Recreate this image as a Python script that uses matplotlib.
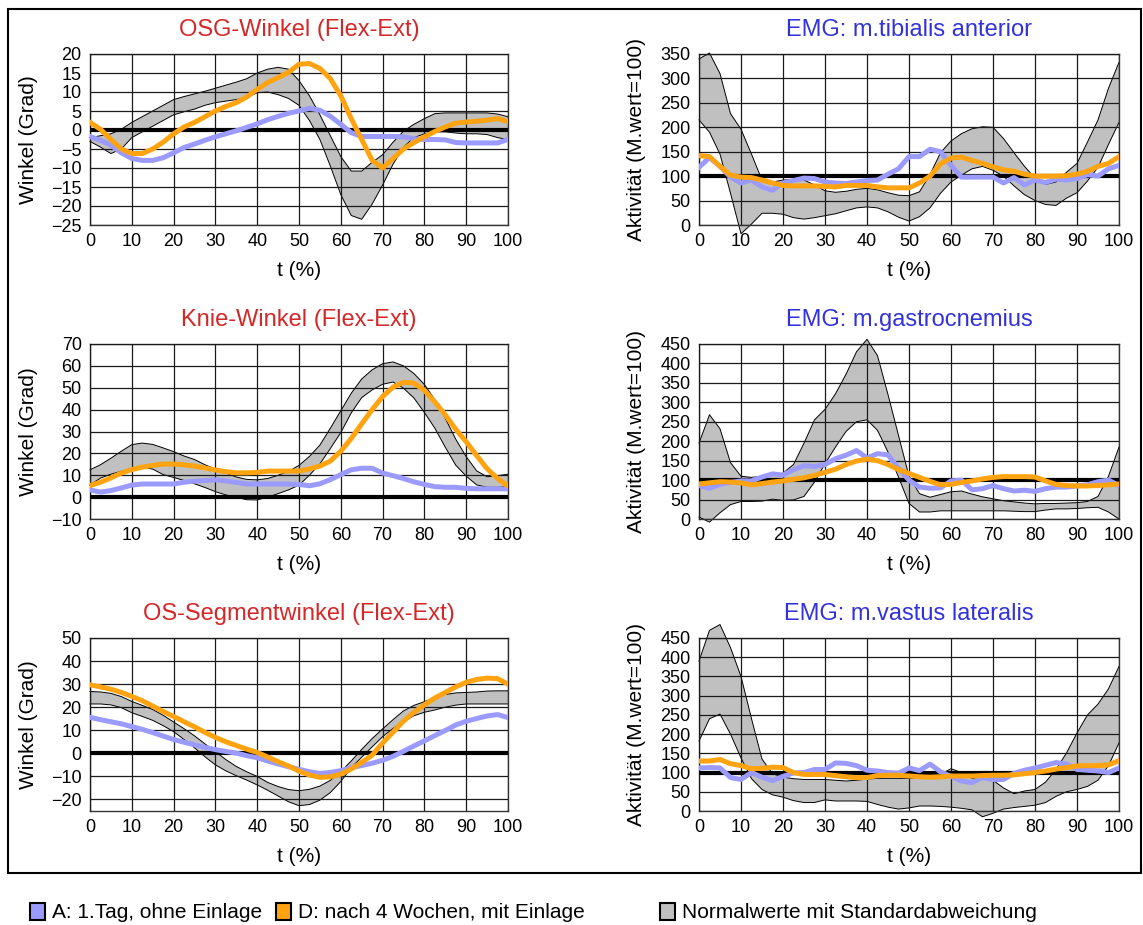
import matplotlib
matplotlib.use("Agg")
import matplotlib.pyplot as plt
from matplotlib.patches import Rectangle

plt.rcParams['font.family'] = ['Liberation Sans', 'DejaVu Sans']

# gait cycle (%)
T = [0, 2.5, 5, 7.5, 10, 12.5, 15, 17.5, 20, 22.5, 25, 27.5, 30, 32.5, 35, 37.5,
     40, 42.5, 45, 47.5, 50, 52.5, 55, 57.5, 60, 62.5, 65, 67.5, 70, 72.5, 75,
     77.5, 80, 82.5, 85, 87.5, 90, 92.5, 95, 97.5, 100]

# --- OSG-Winkel ---
osg_norm_hi = [-2, -1.5, -1, 0.2, 2, 3.5, 5, 6.5, 8, 8.8, 9.5, 10.2, 11, 11.8, 12.6, 13.5,
               15, 16, 16.5, 16, 13, 9, 4, -1.5, -7, -10.8, -10.8, -8.5, -6.5, -3.2, -0.3,
               1.5, 3, 4.3, 4.5, 4.5, 4.5, 4.5, 4.5, 4.2, 3.5]
osg_norm_lo = [-3, -4.5, -6.2, -5, -2, -0.5, 1, 2.5, 4, 4.8, 5.5, 6.5, 7.2, 7.6, 8, 8.5,
               9.8, 10, 9.3, 8.3, 6.5, 2.5, -2.5, -9.5, -17, -22.5, -23.5, -19.5, -14.5, -9, -4.5,
               -2, -1, -0.5, -0.5, -0.8, -1, -1, -1.2, -2, -2.5]
osg_a = [-1.7, -2.7, -4, -6, -7.5, -8, -8, -7.3, -6, -4.6, -3.7, -2.7, -1.8, -1, -0.2, 0.7,
         1.6, 2.7, 3.6, 4.4, 5, 5.7, 5.2, 3.6, 1.5, -0.7, -1.7, -1.7, -1.7, -1.7, -1.8,
         -2.3, -2.5, -2.5, -2.6, -3.3, -3.4, -3.4, -3.4, -3.4, -2.5]
osg_d = [2, 0.2, -2.5, -5, -6.2, -6.2, -5, -3.2, -1, 0.8, 2, 3.5, 5, 6.2, 7.2, 8.7,
         10.7, 12.5, 13.8, 15.2, 17.3, 17.5, 16.2, 13.5, 9, 3, -2.5, -8, -10, -7.5, -5,
         -3.3, -1.8, -0.4, 0.8, 1.8, 2.1, 2.3, 2.6, 3.0, 2.2]

# --- Knie-Winkel ---
knie_norm_hi = [12.5, 14.8, 17.8, 21, 24, 24.7, 24.1, 22.5, 20.8, 18.8, 17.2, 14.8, 12.8, 11, 9.2, 8.1,
                7.9, 8.5, 10, 11.8, 14.5, 18.6, 23.8, 31.5, 39.5, 47.5, 54, 58.2, 61, 61.8, 60,
                56.5, 51.5, 44.5, 36, 26.5, 18.5, 12, 9.3, 9.8, 10.5]
knie_norm_lo = [5.5, 8.7, 10.5, 11.8, 13, 13.7, 12.8, 10.3, 9, 7.6, 6.1, 4.4, 2.5, 1, -0.1, -1.2,
                -1.3, 0, 1.6, 3.3, 5.5, 10, 15.2, 22.2, 29.5, 38.5, 45.5, 49, 51.6, 52.6, 49.8,
                45.3, 38.7, 31.5, 22.8, 14.6, 9.6, 5.6, 4.5, 4.5, 5]
knie_a = [3.3, 2.3, 3, 4.2, 5.5, 6, 6, 6, 6, 6.8, 7.3, 7.6, 7.9, 7.4, 6.7, 6,
          6, 6, 6, 6, 5.8, 5.2, 6.1, 8, 10.3, 12.5, 13.2, 13.2, 11, 9.8, 8.5,
          7, 5.8, 4.8, 4.5, 4.5, 4, 3.8, 3.8, 3.8, 3.8]
knie_d = [5.3, 6.8, 8.8, 11, 12.6, 13.7, 14.5, 15.1, 15.1, 14.8, 14.2, 13.3, 12.4, 11.6, 11.1, 11.1,
          11.3, 11.9, 11.9, 11.9, 11.9, 12.9, 14.2, 16.5, 21, 26.8, 33.5, 40, 46, 50.3, 52.5,
          52.1, 48.8, 43.5, 37.6, 31, 25.3, 19, 13, 8.5, 5]

# --- OS-Segmentwinkel ---
os_norm_hi = [26.8, 26.6, 26, 24.6, 22.5, 20.8, 19, 16.5, 13.6, 10.7, 7.6, 4.1, 0.7, -2.7, -5.7, -8,
              -10, -12.6, -14.4, -15.7, -16.2, -15.6, -14.2, -11.7, -8, -3.3, 1.7, 6.4, 10.6, 14.6, 18.4,
              20.8, 22.4, 24.2, 25.5, 26.2, 26.4, 26.6, 27, 27.1, 27.1]
os_norm_lo = [21.4, 21.4, 21, 19.8, 17.6, 16, 14.3, 12, 9.4, 6, 2.4, -1.5, -5, -7.6, -9.7, -11.6,
              -13.7, -16, -18.5, -21, -22.7, -22.2, -20.3, -17, -12.2, -6.2, -1.7, 2.8, 7.2, 10.8, 13.8,
              16.3, 17.8, 18.8, 20, 20.9, 21.4, 21.4, 21.4, 21.4, 21.4]
os_a = [15.6, 14.6, 13.7, 12.8, 11.6, 10.4, 9, 7.5, 6, 4.8, 3.7, 2.6, 1.6, 0.8, 0.1, -1,
        -1.9, -3.3, -4.6, -5.8, -6.9, -8, -8.7, -8.3, -7.5, -6.2, -5.3, -4.3, -3, -1.3, 0.9,
        3.2, 5.4, 7.7, 9.9, 12.3, 13.9, 15.1, 16.2, 16.8, 15.5]
os_d = [29.7, 28.8, 27.8, 26.4, 24.7, 22.8, 20.5, 18.1, 16, 13.7, 11.5, 9.1, 6.9, 5, 3.4, 1.8,
        0.4, -1.6, -3.6, -5.5, -7.7, -9.4, -10.4, -10.2, -9, -6.8, -3.9, -0.8, 4.5, 9.2, 14,
        17.8, 21, 24, 26.4, 28.8, 30.8, 32, 32.6, 32.4, 30]

# --- EMG m.tibialis anterior ---
tib_norm_hi = [340, 352, 310, 228, 196, 145, 92, 88, 92, 93, 92, 82, 70, 67, 69, 73,
               75, 72, 66, 61, 60, 68, 103, 148, 172, 187, 197, 201, 200, 177, 148,
               120, 96, 83, 88, 108, 126, 170, 215, 280, 333]
tib_norm_lo = [215, 190, 145, 65, -18, 2, 24, 24, 22, 15, 12, 15, 19, 23, 29, 35,
               37, 35, 27, 16, 8, 17, 35, 65, 88, 102, 115, 120, 112, 100, 80,
               62, 50, 42, 40, 55, 66, 90, 118, 165, 210]
tib_a = [118, 138, 120, 98, 86, 92, 78, 71, 86, 91, 96, 95, 88, 86, 85, 88,
         91, 92, 104, 115, 140, 140, 155, 150, 122, 98, 98, 98, 98, 86, 97,
         82, 92, 87, 94, 92, 95, 103, 100, 115, 122]
tib_d = [142, 140, 120, 102, 98, 97, 92, 86, 81, 80, 80, 80, 79, 78, 81, 81,
         81, 78, 76, 76, 76, 86, 100, 125, 137, 139, 132, 126, 119, 113, 110,
         104, 100, 100, 100, 101, 104, 110, 120, 126, 140]

# --- EMG m.gastrocnemius ---
gas_norm_hi = [195, 268, 232, 145, 110, 107, 110, 113, 118, 140, 195, 255, 282, 322, 372, 430,
               462, 420, 320, 215, 110, 65, 56, 63, 70, 72, 64, 57, 52, 47, 44,
               41, 39, 40, 40, 41, 42, 45, 58, 110, 185]
gas_norm_lo = [5, -8, 16, 37, 45, 45, 46, 51, 48, 49, 58, 95, 142, 185, 225, 250,
               255, 228, 172, 108, 40, 18, 18, 21, 21, 21, 21, 21, 21, 21, 20,
               19, 19, 23, 26, 26, 27, 29, 30, 18, 0]
gas_a = [86, 79, 89, 94, 98, 98, 108, 116, 113, 127, 137, 135, 140, 155, 164, 176,
         157, 168, 165, 130, 100, 82, 79, 80, 98, 100, 75, 78, 86, 78, 72,
         74, 71, 78, 82, 82, 85, 88, 96, 100, 86]
gas_d = [90, 93, 96, 95, 93, 88, 91, 95, 98, 102, 106, 112, 120, 128, 140, 149,
         154, 150, 140, 127, 117, 107, 97, 88, 89, 94, 98, 103, 107, 109, 109,
         109, 108, 98, 89, 86, 85, 85, 86, 88, 90]

# --- EMG m.vastus lateralis ---
vas_norm_hi = [390, 470, 485, 425, 350, 240, 135, 97, 88, 84, 82, 82, 82, 80, 78, 80,
               83, 85, 85, 85, 85, 85, 85, 95, 110, 100, 85, 85, 80, 60, 45,
               52, 56, 75, 108, 151, 203, 250, 278, 318, 376]
vas_norm_lo = [182, 240, 252, 200, 138, 84, 56, 42, 36, 27, 22, 22, 29, 26, 26, 26,
               25, 17, 10, 5, 8, 13, 13, 12, 10, 7, 3, -15, -6, 5, 9,
               12, 15, 22, 38, 50, 56, 64, 80, 118, 177]
vas_a = [112, 113, 112, 87, 82, 100, 88, 79, 90, 99, 100, 108, 108, 125, 124, 118,
         106, 104, 100, 98, 112, 105, 122, 102, 90, 78, 74, 87, 82, 82, 98,
         106, 112, 119, 126, 122, 108, 106, 104, 100, 112]
vas_d = [130, 130, 134, 123, 118, 110, 111, 114, 113, 100, 95, 95, 95, 92, 89, 87,
         87, 92, 93, 93, 91, 89, 88, 89, 91, 91, 91, 92, 93, 93, 94,
         97, 100, 104, 109, 113, 117, 118, 118, 120, 131]

X_TICKS = list(range(0, 101, 10))
COL_A = '#9B9BFF'
COL_D = '#FFA310'
COL_NORM = '#C0C0C0'
RED = '#D42828'
BLUE = '#3232DC'

W, H = 1143, 925
fig = plt.figure(figsize=(W / 100, H / 100), dpi=100)


def box(x0, y_top, x1, y_bot):
    return [x0 / W, 1 - y_bot / H, (x1 - x0) / W, (y_bot - y_top) / H]


def panel(rect, lo, hi, a, d, ylim, yticks, ref, title, tcol, ylabel):
    ax = fig.add_axes(rect)
    ax.fill_between(T, lo, hi, facecolor=COL_NORM, edgecolor='none', zorder=1, clip_on=False)
    ax.plot(T, lo, color='black', lw=0.7, zorder=1.5, clip_on=False)
    ax.plot(T, hi, color='black', lw=0.7, zorder=1.5, clip_on=False)
    ax.set_axisbelow(False)
    ax.grid(True, color='#1a1a1a', lw=0.9, zorder=2)
    ax.axhline(ref, color='black', lw=3.0, zorder=3)
    ax.plot(T, a, color=COL_A, lw=3.6, zorder=4)
    ax.plot(T, d, color=COL_D, lw=3.6, zorder=5)
    ax.set_xlim(0, 100)
    ax.set_ylim(*ylim)
    ax.set_xticks(X_TICKS)
    ax.set_yticks(yticks)
    ax.tick_params(length=0, labelsize=13, pad=6)
    for s in ax.spines.values():
        s.set_color('#333333')
        s.set_linewidth(1.0)
    ax.set_title(title, color=tcol, fontsize=17, pad=13)
    ax.set_xlabel('t (%)', fontsize=15, labelpad=8)
    ax.set_ylabel(ylabel, fontsize=15)
    ax.yaxis.set_label_coords(-0.125, 0.5)
    return ax


LX0, LX1 = 90, 508
RX0, RX1 = 699, 1119
ROWS = [(54, 225), (344, 519), (638, 811)]

panel(box(LX0, ROWS[0][0], LX1, ROWS[0][1]), osg_norm_lo, osg_norm_hi, osg_a, osg_d,
      (-25, 20), list(range(-25, 21, 5)), 0, 'OSG-Winkel (Flex-Ext)', RED, 'Winkel (Grad)')
panel(box(LX0, ROWS[1][0], LX1, ROWS[1][1]), knie_norm_lo, knie_norm_hi, knie_a, knie_d,
      (-10, 70), list(range(-10, 71, 10)), 0, 'Knie-Winkel (Flex-Ext)', RED, 'Winkel (Grad)')
panel(box(LX0, ROWS[2][0], LX1, ROWS[2][1]), os_norm_lo, os_norm_hi, os_a, os_d,
      (-25, 50), list(range(-20, 51, 10)), 0, 'OS-Segmentwinkel (Flex-Ext)', RED, 'Winkel (Grad)')
panel(box(RX0, ROWS[0][0], RX1, ROWS[0][1]), tib_norm_lo, tib_norm_hi, tib_a, tib_d,
      (0, 350), list(range(0, 351, 50)), 100, 'EMG: m.tibialis anterior', BLUE, 'Aktivität (M.wert=100)')
panel(box(RX0, ROWS[1][0], RX1, ROWS[1][1]), gas_norm_lo, gas_norm_hi, gas_a, gas_d,
      (0, 450), list(range(0, 451, 50)), 100, 'EMG: m.gastrocnemius', BLUE, 'Aktivität (M.wert=100)')
panel(box(RX0, ROWS[2][0], RX1, ROWS[2][1]), vas_norm_lo, vas_norm_hi, vas_a, vas_d,
      (0, 450), list(range(0, 451, 50)), 100, 'EMG: m.vastus lateralis', BLUE, 'Aktivität (M.wert=100)')

# frame around the chart area
fig.patches.append(Rectangle((8 / W, 1 - 873 / H), (1141 - 8) / W, (873 - 9) / H,
                             transform=fig.transFigure, fill=False, edgecolor='black', lw=1.5))

# legend row: (box x, text x, colour, label)
legend_items = [(30, 52, COL_A, 'A: 1.Tag, ohne Einlage'),
                (276, 298, COL_D, 'D: nach 4 Wochen, mit Einlage'),
                (660, 682, COL_NORM, 'Normalwerte mit Standardabweichung')]
ly = 912
for bx, tx, col, label in legend_items:
    fig.patches.append(Rectangle((bx / W, 1 - (ly + 8) / H), 15 / W, 17 / H,
                                 transform=fig.transFigure, facecolor=col,
                                 edgecolor='black', lw=1.5))
    fig.text(tx / W, 1 - ly / H, label, fontsize=15, va='center', ha='left')

fig.savefig('out.png', dpi=100)
